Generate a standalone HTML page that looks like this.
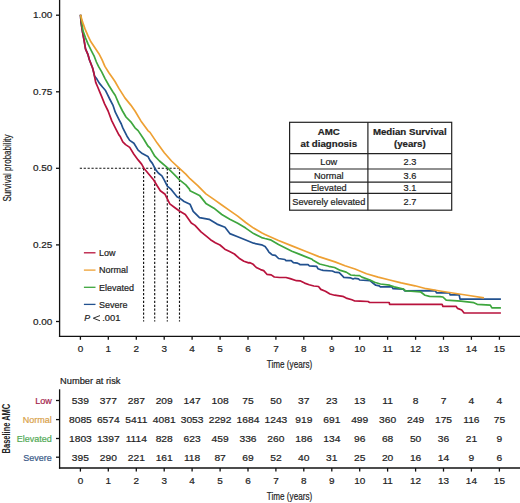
<!DOCTYPE html><html><head><meta charset="utf-8"><style>html,body{margin:0;padding:0;background:#fff;}svg{display:block;}text{font-family:"Liberation Sans",sans-serif;fill:#222;stroke:currentColor;stroke-width:0.2px;color:#222;}</style></head><body>
<svg width="520" height="503" viewBox="0 0 520 503">
<g stroke="#111" stroke-width="1.3" fill="none">
<line x1="59.6" y1="0" x2="59.6" y2="337.05"/>
<line x1="58.95" y1="336.4" x2="520" y2="336.4"/>
<line x1="56" y1="15.2" x2="59.6" y2="15.2"/>
<line x1="56" y1="91.8" x2="59.6" y2="91.8"/>
<line x1="56" y1="168.3" x2="59.6" y2="168.3"/>
<line x1="56" y1="244.9" x2="59.6" y2="244.9"/>
<line x1="56" y1="321.5" x2="59.6" y2="321.5"/>
<line x1="80.4" y1="336.4" x2="80.4" y2="339.8"/>
<line x1="108.3" y1="336.4" x2="108.3" y2="339.8"/>
<line x1="136.3" y1="336.4" x2="136.3" y2="339.8"/>
<line x1="164.2" y1="336.4" x2="164.2" y2="339.8"/>
<line x1="192.1" y1="336.4" x2="192.1" y2="339.8"/>
<line x1="220.1" y1="336.4" x2="220.1" y2="339.8"/>
<line x1="248.0" y1="336.4" x2="248.0" y2="339.8"/>
<line x1="275.9" y1="336.4" x2="275.9" y2="339.8"/>
<line x1="303.8" y1="336.4" x2="303.8" y2="339.8"/>
<line x1="331.8" y1="336.4" x2="331.8" y2="339.8"/>
<line x1="359.7" y1="336.4" x2="359.7" y2="339.8"/>
<line x1="387.6" y1="336.4" x2="387.6" y2="339.8"/>
<line x1="415.6" y1="336.4" x2="415.6" y2="339.8"/>
<line x1="443.5" y1="336.4" x2="443.5" y2="339.8"/>
<line x1="471.4" y1="336.4" x2="471.4" y2="339.8"/>
<line x1="499.4" y1="336.4" x2="499.4" y2="339.8"/>
<line x1="59.6" y1="389.3" x2="59.6" y2="468.65"/>
<line x1="58.95" y1="468" x2="520" y2="468"/>
<line x1="56" y1="400.5" x2="59.6" y2="400.5"/>
<line x1="56" y1="419.6" x2="59.6" y2="419.6"/>
<line x1="56" y1="438.5" x2="59.6" y2="438.5"/>
<line x1="56" y1="457.2" x2="59.6" y2="457.2"/>
<line x1="80.4" y1="468" x2="80.4" y2="471.6"/>
<line x1="108.3" y1="468" x2="108.3" y2="471.6"/>
<line x1="136.3" y1="468" x2="136.3" y2="471.6"/>
<line x1="164.2" y1="468" x2="164.2" y2="471.6"/>
<line x1="192.1" y1="468" x2="192.1" y2="471.6"/>
<line x1="220.1" y1="468" x2="220.1" y2="471.6"/>
<line x1="248.0" y1="468" x2="248.0" y2="471.6"/>
<line x1="275.9" y1="468" x2="275.9" y2="471.6"/>
<line x1="303.8" y1="468" x2="303.8" y2="471.6"/>
<line x1="331.8" y1="468" x2="331.8" y2="471.6"/>
<line x1="359.7" y1="468" x2="359.7" y2="471.6"/>
<line x1="387.6" y1="468" x2="387.6" y2="471.6"/>
<line x1="415.6" y1="468" x2="415.6" y2="471.6"/>
<line x1="443.5" y1="468" x2="443.5" y2="471.6"/>
<line x1="471.4" y1="468" x2="471.4" y2="471.6"/>
<line x1="499.4" y1="468" x2="499.4" y2="471.6"/>
</g>
<text transform="translate(52.4,18.3) scale(1.06,1)" font-size="9.4" text-anchor="end">1.00</text>
<text transform="translate(52.4,94.9) scale(1.06,1)" font-size="9.4" text-anchor="end">0.75</text>
<text transform="translate(52.4,171.4) scale(1.06,1)" font-size="9.4" text-anchor="end">0.50</text>
<text transform="translate(52.4,248.0) scale(1.06,1)" font-size="9.4" text-anchor="end">0.25</text>
<text transform="translate(52.4,324.6) scale(1.06,1)" font-size="9.4" text-anchor="end">0.00</text>
<text transform="translate(80.4,352.2) scale(1.06,1)" font-size="9.4" text-anchor="middle">0</text>
<text transform="translate(80.4,484.2) scale(1.06,1)" font-size="9.4" text-anchor="middle">0</text>
<text transform="translate(108.3,352.2) scale(1.06,1)" font-size="9.4" text-anchor="middle">1</text>
<text transform="translate(108.3,484.2) scale(1.06,1)" font-size="9.4" text-anchor="middle">1</text>
<text transform="translate(136.3,352.2) scale(1.06,1)" font-size="9.4" text-anchor="middle">2</text>
<text transform="translate(136.3,484.2) scale(1.06,1)" font-size="9.4" text-anchor="middle">2</text>
<text transform="translate(164.2,352.2) scale(1.06,1)" font-size="9.4" text-anchor="middle">3</text>
<text transform="translate(164.2,484.2) scale(1.06,1)" font-size="9.4" text-anchor="middle">3</text>
<text transform="translate(192.1,352.2) scale(1.06,1)" font-size="9.4" text-anchor="middle">4</text>
<text transform="translate(192.1,484.2) scale(1.06,1)" font-size="9.4" text-anchor="middle">4</text>
<text transform="translate(220.1,352.2) scale(1.06,1)" font-size="9.4" text-anchor="middle">5</text>
<text transform="translate(220.1,484.2) scale(1.06,1)" font-size="9.4" text-anchor="middle">5</text>
<text transform="translate(248.0,352.2) scale(1.06,1)" font-size="9.4" text-anchor="middle">6</text>
<text transform="translate(248.0,484.2) scale(1.06,1)" font-size="9.4" text-anchor="middle">6</text>
<text transform="translate(275.9,352.2) scale(1.06,1)" font-size="9.4" text-anchor="middle">7</text>
<text transform="translate(275.9,484.2) scale(1.06,1)" font-size="9.4" text-anchor="middle">7</text>
<text transform="translate(303.8,352.2) scale(1.06,1)" font-size="9.4" text-anchor="middle">8</text>
<text transform="translate(303.8,484.2) scale(1.06,1)" font-size="9.4" text-anchor="middle">8</text>
<text transform="translate(331.8,352.2) scale(1.06,1)" font-size="9.4" text-anchor="middle">9</text>
<text transform="translate(331.8,484.2) scale(1.06,1)" font-size="9.4" text-anchor="middle">9</text>
<text transform="translate(359.7,352.2) scale(1.06,1)" font-size="9.4" text-anchor="middle">10</text>
<text transform="translate(359.7,484.2) scale(1.06,1)" font-size="9.4" text-anchor="middle">10</text>
<text transform="translate(387.6,352.2) scale(1.06,1)" font-size="9.4" text-anchor="middle">11</text>
<text transform="translate(387.6,484.2) scale(1.06,1)" font-size="9.4" text-anchor="middle">11</text>
<text transform="translate(415.6,352.2) scale(1.06,1)" font-size="9.4" text-anchor="middle">12</text>
<text transform="translate(415.6,484.2) scale(1.06,1)" font-size="9.4" text-anchor="middle">12</text>
<text transform="translate(443.5,352.2) scale(1.06,1)" font-size="9.4" text-anchor="middle">13</text>
<text transform="translate(443.5,484.2) scale(1.06,1)" font-size="9.4" text-anchor="middle">13</text>
<text transform="translate(471.4,352.2) scale(1.06,1)" font-size="9.4" text-anchor="middle">14</text>
<text transform="translate(471.4,484.2) scale(1.06,1)" font-size="9.4" text-anchor="middle">14</text>
<text transform="translate(499.4,352.2) scale(1.06,1)" font-size="9.4" text-anchor="middle">15</text>
<text transform="translate(499.4,484.2) scale(1.06,1)" font-size="9.4" text-anchor="middle">15</text>
<text transform="translate(289.5,368.3) scale(0.76,1)" font-size="10.7" text-anchor="middle">Time (years)</text>
<text transform="translate(289.5,500) scale(0.76,1)" font-size="10.7" text-anchor="middle">Time (years)</text>
<text transform="translate(11,168) rotate(-90) scale(0.75,1)" font-size="10.7" text-anchor="middle">Survival probability</text>
<text transform="translate(10.4,428.6) rotate(-90) scale(0.70,1)" font-size="10.7" font-weight="bold" text-anchor="middle" style="stroke:none">Baseline AMC</text>
<g stroke="#111" stroke-width="1.15" stroke-dasharray="2.2,1.7" fill="none">
<line x1="79.8" y1="168.2" x2="179.5" y2="168.2"/>
<line x1="143.6" y1="168.2" x2="143.6" y2="321.5"/>
<line x1="154.7" y1="168.2" x2="154.7" y2="321.5"/>
<line x1="167.3" y1="168.2" x2="167.3" y2="321.5"/>
<line x1="179.5" y1="168.2" x2="179.5" y2="321.5"/>
</g>
<polyline points="80.5,14.8 81.0,21.9 82.5,31.9 84.0,39.8 85.5,48.8 88.0,54.7 89.4,59.7 92.6,68.0 93.8,72.7 94.5,75.9 96.9,79.1 99.3,83.1 102.5,87.0 105.3,90.2 107.3,94.2 109.7,99.0 112.9,105.1 115.3,112.2 118.9,119.4 121.3,124.0 122.8,127.9 127.0,136.2 129.7,140.4 133.9,143.2 138.1,150.1 142.3,153.6 147.9,156.4 150.0,160.4 152.4,163.4 155.4,169.4 158.3,173.0 161.9,175.9 164.3,180.1 167.3,186.1 170.9,189.1 172.2,190.7 177.0,196.7 179.4,197.9 184.1,201.5 190.0,204.2 193.2,211.4 199.5,217.7 209.1,219.3 217.0,224.1 225.0,227.3 229.8,233.6 237.7,236.8 245.7,240.0 253.6,243.2 261.6,244.8 265.1,246.5 267.5,249.7 269.1,252.4 270.0,253.0 272.2,254.8 275.4,255.3 278.6,258.5 281.7,259.0 284.9,259.5 286.0,260.6 291.2,260.6 293.4,262.7 297.6,263.2 299.7,264.3 300.0,264.6 308.1,264.6 309.2,265.8 316.7,266.3 317.9,268.7 320.8,269.8 323.1,270.4 332.3,271.0 334.6,272.1 339.2,272.7 342.7,276.2 343.8,277.3 350.8,277.9 353.1,279.0 355.0,278.3 358.5,278.8 359.6,280.0 370.0,280.6 373.5,283.5 375.8,285.2 379.2,285.8 380.4,286.9 391.9,286.9 393.1,288.7 403.5,289.2 404.6,290.8 435.4,290.6 436.5,292.9 449.4,292.9 450.2,294.8 459.2,294.8 460.0,299.1 500.9,299.1" fill="none" stroke="#22518f" stroke-width="1.7" stroke-linejoin="round"/>
<polyline points="80.5,14.8 81.0,21.9 82.5,31.9 84.0,39.8 85.5,48.8 88.0,54.7 89.4,59.7 92.6,68.0 93.8,72.7 94.9,78.3 95.7,82.3 97.7,87.0 99.7,91.8 101.7,96.6 104.6,103.9 108.1,111.0 111.7,120.6 115.3,127.8 118.9,134.9 120.0,136.2 122.8,141.8 125.6,144.6 129.7,147.4 133.9,154.3 138.1,159.9 141.6,164.1 143.9,168.2 153.7,180.0 157.0,185.5 160.3,190.7 165.1,194.3 169.8,203.9 174.6,207.5 179.4,211.0 185.3,214.6 191.3,223.0 195.0,225.4 201.0,231.9 206.9,236.7 210.5,239.7 215.3,242.7 220.0,245.0 224.8,249.2 229.6,251.6 234.4,254.0 239.1,258.2 243.9,261.2 248.7,262.9 250.0,262.7 253.2,264.3 256.3,267.5 260.6,269.6 263.7,270.6 266.9,274.3 271.2,274.9 274.3,277.0 279.6,277.5 286.0,277.5 290.2,278.6 296.5,280.7 300.0,280.8 304.6,283.1 309.2,284.8 313.8,286.0 318.5,286.5 320.8,289.4 325.4,291.2 330.0,294.0 334.6,295.2 342.7,296.3 346.2,298.1 351.9,299.8 354.8,301.0 360.0,301.2 368.1,301.5 369.6,302.5 389.2,302.5 389.6,304.4 442.1,304.4 442.9,306.3 456.0,306.3 457.6,308.4 461.7,310.0 464.1,313.0 500.9,313.0" fill="none" stroke="#b8123c" stroke-width="1.7" stroke-linejoin="round"/>
<polyline points="80.5,14.8 81.8,22.5 83.0,30.9 85.5,37.8 88.0,43.8 90.9,49.8 94.4,56.7 96.4,62.0 98.5,66.4 101.7,71.9 104.9,78.3 108.9,85.5 112.8,91.8 115.3,95.5 118.9,103.9 122.5,111.0 126.0,117.0 130.8,121.8 135.0,127.8 138.1,130.6 143.7,139.0 147.9,146.0 150.0,147.9 154.8,156.2 159.5,161.0 167.9,168.2 173.9,174.1 179.8,180.1 185.8,184.9 189.4,189.1 190.0,190.7 199.5,195.4 205.9,203.4 213.9,208.2 221.8,214.5 229.8,219.3 237.7,223.3 245.7,228.1 253.6,233.6 261.6,237.6 265.0,238.5 270.4,239.8 278.5,244.5 291.9,251.2 298.6,253.9 305.4,256.6 312.1,259.3 312.7,260.0 319.6,264.0 328.8,266.3 334.6,267.5 340.4,270.4 346.2,272.1 350.8,275.0 355.0,275.4 359.6,275.6 361.9,277.1 370.0,280.0 374.6,282.3 380.4,284.0 389.6,285.2 394.2,286.9 403.5,289.2 405.8,291.0 407.7,291.0 420.4,291.8 425.0,295.2 429.6,296.4 440.0,296.6 442.9,297.0 446.2,300.2 460.9,301.1 473.9,302.7 477.2,304.3 490.3,305.1 491.9,307.9 500.9,307.9" fill="none" stroke="#3ea63e" stroke-width="1.7" stroke-linejoin="round"/>
<polyline points="80.5,14.8 82.5,21.9 85.0,28.9 88.0,35.9 90.9,41.8 94.9,47.8 98.9,53.7 102.0,59.7 104.9,66.4 108.9,72.7 112.8,78.3 115.0,81.5 118.9,88.4 124.9,97.9 130.8,105.1 135.0,111.0 140.9,120.9 147.9,130.6 150.0,132.4 157.2,143.1 164.3,152.7 171.5,161.0 178.6,167.6 185.8,174.1 190.0,178.7 198.0,185.9 205.9,193.9 213.9,199.4 221.8,205.0 229.8,210.6 237.7,216.1 245.7,222.5 253.6,228.1 261.6,232.8 265.0,234.4 278.5,240.5 291.9,245.9 305.4,251.2 318.8,256.6 335.0,261.9 345.0,265.8 355.0,269.0 366.5,273.7 378.1,277.1 389.6,280.0 401.2,282.9 415.0,285.8 426.2,288.7 440.0,291.0 452.7,293.0 469.0,295.5 484.0,297.9" fill="none" stroke="#eea033" stroke-width="1.7" stroke-linejoin="round"/>
<line x1="83.9" y1="252.8" x2="95.5" y2="252.8" stroke="#b8123c" stroke-width="1.3"/>
<text x="99.1" y="256.1" font-size="9.0">Low</text>
<line x1="83.9" y1="270.1" x2="95.5" y2="270.1" stroke="#eea033" stroke-width="1.3"/>
<text x="99.1" y="273.4" font-size="9.0">Normal</text>
<line x1="83.9" y1="287.3" x2="95.5" y2="287.3" stroke="#3ea63e" stroke-width="1.3"/>
<text x="99.1" y="290.6" font-size="9.0">Elevated</text>
<line x1="83.9" y1="304.4" x2="95.5" y2="304.4" stroke="#22518f" stroke-width="1.3"/>
<text x="99.1" y="307.7" font-size="9.0">Severe</text>
<text x="84.3" y="321" font-size="8.8" font-style="italic">P</text>
<polyline points="100,315.6 93.3,318.2 100,320.8" fill="none" stroke="#222" stroke-width="0.95"/>
<text x="102.2" y="321" font-size="9.4">.001</text>
<g stroke="#222" stroke-width="1.2" fill="none">
<rect x="289.6" y="122.3" width="162.1" height="87.9" fill="#fff"/>
<line x1="367.9" y1="122.3" x2="367.9" y2="210.2"/>
<line x1="289.6" y1="153.7" x2="451.7" y2="153.7"/>
<line x1="289.6" y1="169" x2="451.7" y2="169"/>
<line x1="289.6" y1="182.2" x2="451.7" y2="182.2"/>
<line x1="289.6" y1="193.4" x2="451.7" y2="193.4"/>
</g>
<g font-size="9.7" font-weight="bold" text-anchor="middle">
<text x="328.8" y="135.3">AMC</text><text x="328.8" y="147.2">at diagnosis</text>
<text x="409.8" y="135.3">Median Survival</text><text x="409.8" y="146.8">(years)</text>
</g>
<g font-size="9.2" text-anchor="middle">
<text x="328.8" y="164.7">Low</text><text x="410" y="164.7">2.3</text>
<text x="328.8" y="178.8">Normal</text><text x="410" y="178.8">3.6</text>
<text x="328.8" y="191.3">Elevated</text><text x="410" y="191.3">3.1</text>
<text x="328.8" y="205.2">Severely elevated</text><text x="410" y="205.2">2.7</text>
</g>
<text x="60" y="384" font-size="9.3">Number at risk</text>
<text x="51.8" y="403.9" font-size="9" text-anchor="end" style="fill:#a3244a;color:#a3244a">Low</text>
<text transform="translate(80.4,403.9) scale(1.07,1)" font-size="9.6" text-anchor="middle">539</text>
<text transform="translate(108.3,403.9) scale(1.07,1)" font-size="9.6" text-anchor="middle">377</text>
<text transform="translate(136.3,403.9) scale(1.07,1)" font-size="9.6" text-anchor="middle">287</text>
<text transform="translate(164.2,403.9) scale(1.07,1)" font-size="9.6" text-anchor="middle">209</text>
<text transform="translate(192.1,403.9) scale(1.07,1)" font-size="9.6" text-anchor="middle">147</text>
<text transform="translate(220.1,403.9) scale(1.07,1)" font-size="9.6" text-anchor="middle">108</text>
<text transform="translate(248.0,403.9) scale(1.07,1)" font-size="9.6" text-anchor="middle">75</text>
<text transform="translate(275.9,403.9) scale(1.07,1)" font-size="9.6" text-anchor="middle">50</text>
<text transform="translate(303.8,403.9) scale(1.07,1)" font-size="9.6" text-anchor="middle">37</text>
<text transform="translate(331.8,403.9) scale(1.07,1)" font-size="9.6" text-anchor="middle">23</text>
<text transform="translate(359.7,403.9) scale(1.07,1)" font-size="9.6" text-anchor="middle">13</text>
<text transform="translate(387.6,403.9) scale(1.07,1)" font-size="9.6" text-anchor="middle">11</text>
<text transform="translate(415.6,403.9) scale(1.07,1)" font-size="9.6" text-anchor="middle">8</text>
<text transform="translate(443.5,403.9) scale(1.07,1)" font-size="9.6" text-anchor="middle">7</text>
<text transform="translate(471.4,403.9) scale(1.07,1)" font-size="9.6" text-anchor="middle">4</text>
<text transform="translate(499.4,403.9) scale(1.07,1)" font-size="9.6" text-anchor="middle">4</text>
<text x="51.8" y="423.0" font-size="9" text-anchor="end" style="fill:#d9a24a;color:#d9a24a">Normal</text>
<text transform="translate(80.4,423.0) scale(1.07,1)" font-size="9.6" text-anchor="middle">8085</text>
<text transform="translate(108.3,423.0) scale(1.07,1)" font-size="9.6" text-anchor="middle">6574</text>
<text transform="translate(136.3,423.0) scale(1.07,1)" font-size="9.6" text-anchor="middle">5411</text>
<text transform="translate(164.2,423.0) scale(1.07,1)" font-size="9.6" text-anchor="middle">4081</text>
<text transform="translate(192.1,423.0) scale(1.07,1)" font-size="9.6" text-anchor="middle">3053</text>
<text transform="translate(220.1,423.0) scale(1.07,1)" font-size="9.6" text-anchor="middle">2292</text>
<text transform="translate(248.0,423.0) scale(1.07,1)" font-size="9.6" text-anchor="middle">1684</text>
<text transform="translate(275.9,423.0) scale(1.07,1)" font-size="9.6" text-anchor="middle">1243</text>
<text transform="translate(303.8,423.0) scale(1.07,1)" font-size="9.6" text-anchor="middle">919</text>
<text transform="translate(331.8,423.0) scale(1.07,1)" font-size="9.6" text-anchor="middle">691</text>
<text transform="translate(359.7,423.0) scale(1.07,1)" font-size="9.6" text-anchor="middle">499</text>
<text transform="translate(387.6,423.0) scale(1.07,1)" font-size="9.6" text-anchor="middle">360</text>
<text transform="translate(415.6,423.0) scale(1.07,1)" font-size="9.6" text-anchor="middle">249</text>
<text transform="translate(443.5,423.0) scale(1.07,1)" font-size="9.6" text-anchor="middle">175</text>
<text transform="translate(471.4,423.0) scale(1.07,1)" font-size="9.6" text-anchor="middle">116</text>
<text transform="translate(499.4,423.0) scale(1.07,1)" font-size="9.6" text-anchor="middle">75</text>
<text x="51.8" y="441.9" font-size="9" text-anchor="end" style="fill:#52aa55;color:#52aa55">Elevated</text>
<text transform="translate(80.4,441.9) scale(1.07,1)" font-size="9.6" text-anchor="middle">1803</text>
<text transform="translate(108.3,441.9) scale(1.07,1)" font-size="9.6" text-anchor="middle">1397</text>
<text transform="translate(136.3,441.9) scale(1.07,1)" font-size="9.6" text-anchor="middle">1114</text>
<text transform="translate(164.2,441.9) scale(1.07,1)" font-size="9.6" text-anchor="middle">828</text>
<text transform="translate(192.1,441.9) scale(1.07,1)" font-size="9.6" text-anchor="middle">623</text>
<text transform="translate(220.1,441.9) scale(1.07,1)" font-size="9.6" text-anchor="middle">459</text>
<text transform="translate(248.0,441.9) scale(1.07,1)" font-size="9.6" text-anchor="middle">336</text>
<text transform="translate(275.9,441.9) scale(1.07,1)" font-size="9.6" text-anchor="middle">260</text>
<text transform="translate(303.8,441.9) scale(1.07,1)" font-size="9.6" text-anchor="middle">186</text>
<text transform="translate(331.8,441.9) scale(1.07,1)" font-size="9.6" text-anchor="middle">134</text>
<text transform="translate(359.7,441.9) scale(1.07,1)" font-size="9.6" text-anchor="middle">96</text>
<text transform="translate(387.6,441.9) scale(1.07,1)" font-size="9.6" text-anchor="middle">68</text>
<text transform="translate(415.6,441.9) scale(1.07,1)" font-size="9.6" text-anchor="middle">50</text>
<text transform="translate(443.5,441.9) scale(1.07,1)" font-size="9.6" text-anchor="middle">36</text>
<text transform="translate(471.4,441.9) scale(1.07,1)" font-size="9.6" text-anchor="middle">21</text>
<text transform="translate(499.4,441.9) scale(1.07,1)" font-size="9.6" text-anchor="middle">9</text>
<text x="51.8" y="460.6" font-size="9" text-anchor="end" style="fill:#3a5a88;color:#3a5a88">Severe</text>
<text transform="translate(80.4,460.6) scale(1.07,1)" font-size="9.6" text-anchor="middle">395</text>
<text transform="translate(108.3,460.6) scale(1.07,1)" font-size="9.6" text-anchor="middle">290</text>
<text transform="translate(136.3,460.6) scale(1.07,1)" font-size="9.6" text-anchor="middle">221</text>
<text transform="translate(164.2,460.6) scale(1.07,1)" font-size="9.6" text-anchor="middle">161</text>
<text transform="translate(192.1,460.6) scale(1.07,1)" font-size="9.6" text-anchor="middle">118</text>
<text transform="translate(220.1,460.6) scale(1.07,1)" font-size="9.6" text-anchor="middle">87</text>
<text transform="translate(248.0,460.6) scale(1.07,1)" font-size="9.6" text-anchor="middle">69</text>
<text transform="translate(275.9,460.6) scale(1.07,1)" font-size="9.6" text-anchor="middle">52</text>
<text transform="translate(303.8,460.6) scale(1.07,1)" font-size="9.6" text-anchor="middle">40</text>
<text transform="translate(331.8,460.6) scale(1.07,1)" font-size="9.6" text-anchor="middle">31</text>
<text transform="translate(359.7,460.6) scale(1.07,1)" font-size="9.6" text-anchor="middle">25</text>
<text transform="translate(387.6,460.6) scale(1.07,1)" font-size="9.6" text-anchor="middle">20</text>
<text transform="translate(415.6,460.6) scale(1.07,1)" font-size="9.6" text-anchor="middle">16</text>
<text transform="translate(443.5,460.6) scale(1.07,1)" font-size="9.6" text-anchor="middle">14</text>
<text transform="translate(471.4,460.6) scale(1.07,1)" font-size="9.6" text-anchor="middle">9</text>
<text transform="translate(499.4,460.6) scale(1.07,1)" font-size="9.6" text-anchor="middle">6</text>
</svg></body></html>
